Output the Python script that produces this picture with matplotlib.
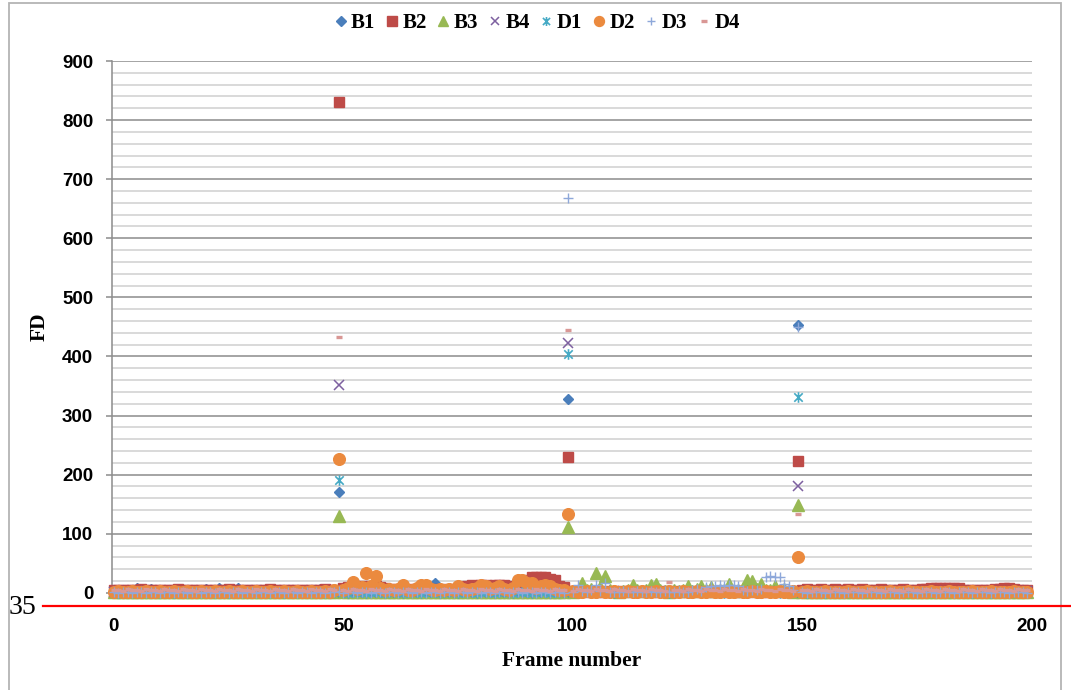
import matplotlib
matplotlib.use("Agg")
import matplotlib.pyplot as plt
import matplotlib.patches as mpatches
from matplotlib.path import Path
from matplotlib.lines import Line2D
import numpy as np

# frame-difference values per frame, one list per feature
frames = list(range(200))

B1 = [3,4,3,4,3,8,4,3,7,3, 4,3,2,4,3,3,4,2,3,4,
      7,3,4,8,3,4,3,9,3,2, 4,3,3,2,4,3,2,3,4,3,
      3,4,2,3,5,7,3,2,4,171, 4,3,2,3,4,3,3,2,4,3,
      3,2,4,3,3,2,4,3,2,3, 16,9,3,2,4,3,2,3,3,2,
      3,4,2,3,3,2,4,3,2,3, 3,2,4,8,3,2,3,2,3,328,
      2,3,2,3,2,2,3,2,3,2, 3,2,2,3,2,3,2,2,3,2,
      2,3,2,2,3,2,2,3,2,2, 3,2,2,3,2,2,3,2,2,3,
      2,2,3,2,2,3,2,2,3,453, 2,3,2,2,3,2,2,3,2,2,
      3,2,2,3,2,2,3,2,2,3, 2,2,3,2,2,3,2,2,3,2,
      2,3,2,2,3,2,2,3,2,2, 3,2,2,3,2,2,3,2,2,3]

B2 = [4,5,4,5,4,5,6,4,5,4, 5,4,5,4,6,5,4,5,4,5,
      5,4,5,4,5,6,4,5,4,5, 4,5,4,5,6,4,5,4,5,4,
      5,4,5,4,5,4,6,5,4,830, 9,10,9,10,11,10,12,11,10,9,
      6,5,6,5,6,5,6,5,6,5, 6,5,6,5,6,6,7,12,13,12,
      14,13,12,13,14,13,12,8,8,9, 21,26,27,26,27,24,22,12,10,230,
      3,2,3,2,3,2,3,2,3,2, 3,2,3,2,3,2,3,2,3,2,
      3,2,3,2,3,2,3,2,3,2, 3,2,3,2,3,2,3,2,3,2,
      3,2,3,2,3,2,3,2,3,223, 5,6,4,5,6,4,5,6,5,4,
      6,5,4,6,5,4,5,6,4,5, 5,4,6,5,4,5,6,7,8,8,
      9,8,8,9,8,5,4,5,4,5, 4,5,6,7,8,8,7,5,4,5]

B3 = [2,1,2,1,2,1,2,1,2,1, 2,1,2,1,2,1,2,1,2,1,
      2,1,2,1,2,1,2,1,2,1, 2,1,2,1,2,1,2,1,2,1,
      2,1,2,1,2,1,2,1,2,130, 2,1,2,1,2,1,2,1,2,1,
      2,1,2,1,2,1,2,1,2,1, 2,1,2,1,2,1,2,1,2,1,
      2,1,2,1,2,1,2,1,2,1, 2,1,2,1,2,1,2,1,2,112,
      2,3,16,4,6,33,10,28,4,3, 2,3,5,14,4,3,5,13,15,4,
      3,2,5,3,4,11,3,6,12,4, 10,3,5,4,15,3,5,8,22,20,
      6,15,4,5,12,4,6,3,2,149, 2,1,2,1,2,1,2,1,2,1,
      2,1,2,1,2,1,2,1,2,1, 2,1,2,1,2,1,2,1,2,1,
      2,1,2,1,2,1,2,1,2,1, 2,1,2,1,2,1,2,1,2,1]

B4 = [2,3,2,1,2,3,2,1,2,3, 2,1,2,3,2,1,2,3,2,1,
      2,3,2,1,2,3,2,1,2,3, 2,1,2,3,2,1,2,3,2,1,
      2,3,2,1,2,3,2,1,2,352, 2,3,2,1,2,3,2,1,2,3,
      2,1,2,3,2,1,2,3,2,1, 2,3,2,1,2,3,2,1,2,3,
      2,1,2,3,2,1,2,3,2,1, 2,3,2,1,2,3,2,1,2,423,
      2,1,2,3,2,1,2,3,2,1, 2,3,2,1,2,3,2,1,2,3,
      2,1,2,3,2,1,2,3,2,1, 2,3,2,1,2,3,2,1,2,3,
      2,1,2,3,2,1,2,3,2,181, 2,3,2,1,2,3,2,1,2,3,
      2,1,2,3,2,1,2,3,2,1, 2,3,2,1,2,3,2,1,2,3,
      2,1,2,3,2,1,2,3,2,1, 2,3,2,1,2,3,2,1,2,3]

D1 = [1,0,1,2,1,0,1,2,1,0, 1,2,1,0,1,2,1,0,1,2,
      1,0,1,2,1,0,1,2,1,0, 1,2,1,0,1,2,1,0,1,2,
      1,0,1,2,1,0,1,2,1,191, 1,0,1,2,1,0,1,2,1,0,
      1,2,1,0,1,2,1,0,1,2, 1,0,1,2,1,0,1,2,1,0,
      1,2,1,0,1,2,1,0,1,2, 1,0,1,2,1,0,1,2,1,404,
      1,0,1,2,1,0,1,2,1,0, 1,2,1,0,1,2,1,0,1,2,
      1,0,1,2,1,0,1,2,1,0, 1,2,1,0,1,2,1,0,1,2,
      1,0,1,2,1,0,1,2,1,332, 1,0,1,2,1,0,1,2,1,0,
      1,2,1,0,1,2,1,0,1,2, 1,0,1,2,1,0,1,2,1,0,
      1,2,1,0,1,2,1,0,1,2, 1,0,1,2,1,0,1,2,1,0]

D2 = [2,3,1,2,3,2,1,3,2,2, 3,1,2,3,2,1,3,2,2,3,
      1,2,3,2,1,3,2,2,3,1, 2,3,2,1,3,2,2,3,1,2,
      3,2,1,3,2,2,3,1,4,227, 5,8,18,6,10,33,12,28,8,5,
      6,4,7,13,5,4,8,13,14,6, 5,7,4,6,5,11,6,4,7,9,
      13,12,6,8,12,7,5,9,22,21, 17,16,8,11,14,12,6,5,4,134,
      3,2,1,3,2,2,3,1,2,3, 2,1,3,2,2,3,1,2,3,2,
      1,3,2,2,3,1,2,3,2,1, 3,2,2,3,1,2,3,2,1,3,
      2,2,3,1,2,3,2,1,3,61, 2,3,2,1,2,3,2,2,1,2,
      3,2,1,2,3,2,2,1,2,3, 2,1,2,3,2,2,1,2,3,2,
      1,2,3,2,2,1,2,3,2,1, 2,3,2,2,1,2,3,2,1,2]

D3 = [1,0,2,1,0,1,2,0,1,1, 0,2,1,0,1,2,0,1,1,0,
      2,1,0,1,2,0,1,1,0,2, 1,0,1,2,0,1,1,0,2,1,
      0,1,2,0,1,1,0,2,1,3, 0,1,2,0,1,1,0,2,1,0,
      1,2,0,1,1,0,2,1,0,1, 2,0,1,1,0,2,1,0,1,2,
      0,1,1,0,2,1,0,1,2,0, 1,1,0,2,1,0,1,2,0,668,
      2,14,3,2,4,14,3,16,2,1, 2,3,1,2,3,1,2,3,1,2,
      3,1,2,3,1,2,5,6,3,10, 12,11,13,12,14,13,12,4,3,5,
      4,6,26,29,27,26,15,12,4,450, 1,0,1,2,1,0,1,2,1,0,
      1,2,1,0,1,2,1,0,1,2, 1,0,1,2,1,0,1,2,1,0,
      1,2,1,0,1,2,1,0,1,2, 1,0,1,2,1,0,1,2,1,0]

D4 = [4,5,3,6,4,5,3,6,4,5, 3,6,4,5,3,6,4,5,3,6,
      4,5,3,6,4,5,3,6,4,5, 3,6,4,5,3,6,4,5,3,6,
      4,5,3,6,4,5,3,6,4,433, 5,3,6,4,5,3,6,4,5,3,
      6,4,5,3,6,4,5,3,6,4, 5,3,6,4,5,3,6,4,5,3,
      6,4,5,3,6,4,5,3,6,4, 5,3,6,4,5,3,6,4,5,445,
      3,6,4,5,3,6,4,5,3,6, 4,5,3,6,4,5,3,6,4,5,
      3,18,4,5,3,6,4,5,3,6, 4,5,3,6,4,5,3,6,4,5,
      3,6,4,5,3,6,4,5,3,134, 4,5,3,6,4,5,3,6,4,5,
      3,6,4,5,3,6,4,5,3,6, 4,5,3,6,4,5,3,6,4,5,
      3,6,4,5,3,6,4,5,3,6, 4,5,3,6,4,5,3,6,4,5]

names = ["B1", "B2", "B3", "B4", "D1", "D2", "D3", "D4"]
series = [B1, B2, B3, B4, D1, D2, D3, D4]
colors = ["#4A7EBB", "#BE4B48", "#98B954", "#7D60A0",
          "#46AAC5", "#EB8A3E", "#8EA8DA", "#D99795"]

# excel-style star: an x with a vertical bar through it
star = Path([(0, -1), (0, 1), (-0.8, -0.8), (0.8, 0.8), (-0.8, 0.8), (0.8, -0.8)],
            [Path.MOVETO, Path.LINETO, Path.MOVETO, Path.LINETO, Path.MOVETO, Path.LINETO])

styles = [dict(marker="D", ms=5.6),
          dict(marker="s", ms=7.9),
          dict(marker="^", ms=8.2),
          dict(marker="x", ms=7.0, mew=1.1),
          dict(marker=star, ms=7.6, mew=1.2),
          dict(marker="o", ms=8.4),
          dict(marker="+", ms=7.2, mew=1.0),
          dict(marker="_", ms=4.6, mew=2.4)]

W, H = 1071, 690
fig = plt.figure(figsize=(W / 100, H / 100), dpi=100)
ax = fig.add_axes([112 / W, 1 - 597 / H, 920 / W, 536 / H])

handles = []
for name, vals, col, st in zip(names, series, colors, styles):
    h, = ax.plot(frames, vals, ls="none", color=col, mec=col, mfc=col,
                 clip_on=False, zorder=3, label=name, **st)
    handles.append(h)

ax.set_xlim(-0.4, 200)
ax.set_ylim(-7, 900)
ax.set_xticks(range(0, 201, 50))
ax.set_yticks(range(0, 901, 100))
ax.set_yticks(range(0, 901, 20), minor=True)
ax.grid(axis="y", which="minor", color="#D0D0D0", lw=1.1, zorder=0)
ax.grid(axis="y", which="major", color="#8C8C8C", lw=1.1, zorder=0)
ax.set_axisbelow(True)

for s in ["top", "right", "bottom"]:
    ax.spines[s].set_visible(False)
ax.spines["left"].set_color("#8C8C8C")
ax.spines["left"].set_linewidth(1.1)

tick_font = dict(family="Liberation Sans", weight="bold", size=13.5)
ax.tick_params(axis="y", which="major", length=4.5, width=1.1, color="#8C8C8C", pad=9)
ax.tick_params(axis="y", which="minor", length=0)
ax.tick_params(axis="x", length=0, pad=15)
for lab in ax.get_xticklabels() + ax.get_yticklabels():
    lab.set_fontproperties(tick_font)

serif = dict(family="Liberation Serif", weight="bold", size=15.5)
fig.text(40 / W, 1 - 327 / H, "FD", rotation=90, ha="center", va="center", **serif)
fig.text(572 / W, 1 - 661 / H, "Frame number", ha="center", va="center", **serif)

legend_font = dict(family="Liberation Serif", weight="bold", size=15)
fig.legend(handles=handles, loc="center", bbox_to_anchor=(537 / W, 1 - 23 / H),
           ncol=8, frameon=False, prop=legend_font, handlelength=0.6, handletextpad=0.2,
           columnspacing=0.5, markerscale=0.85, borderaxespad=0)

# chart frame
fig.patches.append(mpatches.Rectangle((9 / W, -0.05), 1052 / W, 1.05 - 3 / H,
                                      transform=fig.transFigure, fill=False,
                                      ec="#B4B4B4", lw=1.3))

# red rule with line number
fig.lines.append(Line2D([43 / W, 1.0], [1 - 606 / H, 1 - 606 / H],
                        transform=fig.transFigure, color="#FF0000", lw=1.6))
fig.text(22 / W, 1 - 608 / H, "35", ha="center", va="center",
         family="Liberation Serif", size=20)

fig.savefig("out.png", dpi=100)
